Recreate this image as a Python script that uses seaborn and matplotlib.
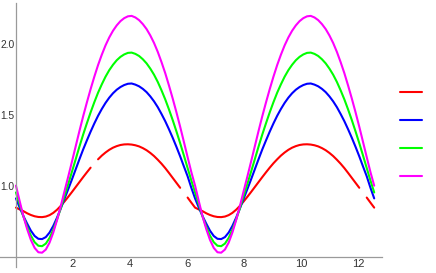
import numpy as np
import pandas as pd
import matplotlib
matplotlib.use("Agg")
import matplotlib.pyplot as plt
import seaborn as sns
from matplotlib.lines import Line2D
from matplotlib.ticker import FixedLocator, FormatStrFormatter

# sample positions over 0 .. 4*pi (97 points)
x = np.linspace(0, 4 * np.pi, 97)

nan = np.nan

# values, one list per curve
red = [0.845, 0.832, 0.820, 0.805, 0.793, 0.784, 0.779, 0.778, 0.782, 0.792, 0.808, 0.830,
       0.857, 0.888, 0.921, 0.955, 0.990, 1.025, 1.060, 1.094, 1.127, nan, 1.186, 1.212,
       1.234, 1.253, 1.268, 1.279, 1.287, 1.291, 1.292, 1.290, 1.285, 1.277, 1.265, 1.250,
       1.231, 1.209, 1.183, 1.155, 1.124, 1.090, 1.055, 1.020, 0.985, nan, 0.916, 0.880,
       0.845, 0.832, 0.820, 0.805, 0.793, 0.784, 0.779, 0.778, 0.782, 0.792, 0.808, 0.830,
       0.857, 0.888, 0.921, 0.955, 0.990, 1.025, 1.060, 1.094, 1.127, 1.158, 1.186, 1.212,
       1.234, 1.253, 1.268, 1.279, 1.287, 1.291, 1.292, 1.290, 1.285, 1.277, 1.265, 1.250,
       1.231, 1.209, 1.183, 1.155, 1.124, 1.090, 1.055, 1.020, 0.985, nan, 0.916, 0.880,
       0.845]

blue = [0.910, 0.845, 0.785, 0.732, 0.682, 0.645, 0.625, 0.623, 0.637, 0.669, 0.716, 0.774,
        0.838, 0.907, 0.975, 1.044, 1.115, 1.186, 1.255, 1.319, 1.381, 1.439, 1.493, 1.541,
        1.584, 1.621, 1.652, 1.677, 1.696, 1.710, 1.719, 1.721, 1.713, 1.701, 1.683, 1.660,
        1.630, 1.595, 1.554, 1.506, 1.455, 1.398, 1.338, 1.274, 1.207, 1.136, 1.066, 0.985,
        0.910, 0.845, 0.785, 0.732, 0.682, 0.645, 0.625, 0.623, 0.637, 0.669, 0.716, 0.774,
        0.838, 0.907, 0.975, 1.044, 1.115, 1.186, 1.255, 1.319, 1.381, 1.439, 1.493, 1.541,
        1.584, 1.621, 1.652, 1.677, 1.696, 1.710, 1.719, 1.721, 1.713, 1.701, 1.683, 1.660,
        1.630, 1.595, 1.554, 1.506, 1.455, 1.398, 1.338, 1.274, 1.207, 1.136, 1.066, 0.985,
        0.910]

green = [0.952, 0.867, 0.783, 0.709, 0.647, 0.601, 0.576, 0.573, 0.591, 0.631, 0.689, 0.761,
         0.841, 0.927, 1.011, 1.098, 1.186, 1.275, 1.360, 1.440, 1.517, 1.589, 1.656, 1.715,
         1.769, 1.815, 1.853, 1.885, 1.909, 1.926, 1.937, 1.939, 1.930, 1.915, 1.892, 1.863,
         1.826, 1.783, 1.732, 1.673, 1.609, 1.538, 1.463, 1.383, 1.300, 1.213, 1.124, 1.036,
         0.952, 0.867, 0.783, 0.709, 0.647, 0.601, 0.576, 0.573, 0.591, 0.631, 0.689, 0.761,
         0.841, 0.927, 1.011, 1.098, 1.186, 1.275, 1.360, 1.440, 1.517, 1.589, 1.656, 1.715,
         1.769, 1.815, 1.853, 1.885, 1.909, 1.926, 1.937, 1.939, 1.930, 1.915, 1.892, 1.863,
         1.826, 1.783, 1.732, 1.673, 1.609, 1.538, 1.463, 1.383, 1.300, 1.213, 1.124, 1.036,
         0.952]

magenta = [1.000, 0.890, 0.784, 0.693, 0.617, 0.561, 0.530, 0.527, 0.549, 0.598, 0.669, 0.757,
           0.855, 0.960, 1.063, 1.169, 1.277, 1.385, 1.489, 1.587, 1.681, 1.769, 1.851, 1.924,
           1.990, 2.046, 2.093, 2.131, 2.161, 2.182, 2.195, 2.198, 2.187, 2.168, 2.140, 2.105,
           2.060, 2.007, 1.944, 1.872, 1.794, 1.707, 1.615, 1.518, 1.416, 1.309, 1.201, 1.095,
           1.000, 0.890, 0.784, 0.693, 0.617, 0.561, 0.530, 0.527, 0.549, 0.598, 0.669, 0.757,
           0.855, 0.960, 1.063, 1.169, 1.277, 1.385, 1.489, 1.587, 1.681, 1.769, 1.851, 1.924,
           1.990, 2.046, 2.093, 2.131, 2.161, 2.182, 2.195, 2.198, 2.187, 2.168, 2.140, 2.105,
           2.060, 2.007, 1.944, 1.872, 1.794, 1.707, 1.615, 1.518, 1.416, 1.309, 1.201, 1.095,
           1.000]

series_names = ["red", "blue", "green", "magenta"]
colors = ["#ff0000", "#0000ff", "#00ff00", "#ff00ff"]

x_ticks = [2, 4, 6, 8, 10, 12]
y_ticks = [1.0, 1.5, 2.0]

# long-form table; a NaN starts a new segment so the gaps stay open
rows = []
for name, vals in zip(series_names, [red, blue, green, magenta]):
    seg = 0
    for xi, yi in zip(x, vals):
        if np.isnan(yi):
            seg += 1
            continue
        rows.append((name, f"{name}_{seg}", xi, yi))
df = pd.DataFrame(rows, columns=["series", "seg", "x", "y"])

sns.set_style("white")
plt.rcParams["font.family"] = ["Liberation Sans", "DejaVu Sans"]

fig = plt.figure(figsize=(4.36, 2.73), dpi=100)
ax = fig.add_axes([0, 6 / 273, 382 / 436, 264 / 273])

sns.lineplot(data=df, x="x", y="y", hue="series", units="seg", estimator=None,
             sort=False, hue_order=series_names,
             palette=dict(zip(series_names, colors)), linewidth=1.5,
             solid_capstyle="round", legend=False, ax=ax)

ax.set_xlim(-0.56, 12.84)
ax.set_ylim(0.426, 2.289)
ax.set_xlabel("")
ax.set_ylabel("")
ax.set_facecolor("white")

# Mathematica-like axes crossing at (0, 0.5)
axis_color = "#9a9a9a"
ax.spines["left"].set_position(("data", 0))
ax.spines["bottom"].set_position(("data", 0.5))
ax.spines["top"].set_visible(False)
ax.spines["right"].set_visible(False)
for s in ["left", "bottom"]:
    ax.spines[s].set_color(axis_color)
    ax.spines[s].set_linewidth(0.9)

ax.xaxis.set_major_locator(FixedLocator(x_ticks))
ax.xaxis.set_minor_locator(FixedLocator(np.arange(0.5, 12.6, 0.5)))
ax.yaxis.set_major_locator(FixedLocator(y_ticks))
ax.yaxis.set_minor_locator(FixedLocator(np.arange(0.6, 2.25, 0.1)))
ax.yaxis.set_major_formatter(FormatStrFormatter("%.1f"))
ax.tick_params(which="both", direction="in", color=axis_color, width=0.8,
               labelsize=8, labelcolor="#333333", pad=2)
ax.tick_params(axis="y", which="major", labelsize=7.4, pad=0.8)
ax.tick_params(which="major", length=4)
ax.tick_params(which="minor", length=2.3)

handles = [Line2D([], [], color=c, lw=1.5) for c in colors]
fig.legend(handles, ["", "", "", ""], loc="upper left",
           bbox_to_anchor=(400 / 436, 1 - 88 / 273), frameon=False,
           fontsize=8, handlelength=1.95, labelspacing=1.63,
           borderpad=0, borderaxespad=0, handletextpad=0.2)

fig.savefig("out.png", dpi=100, facecolor="white")
